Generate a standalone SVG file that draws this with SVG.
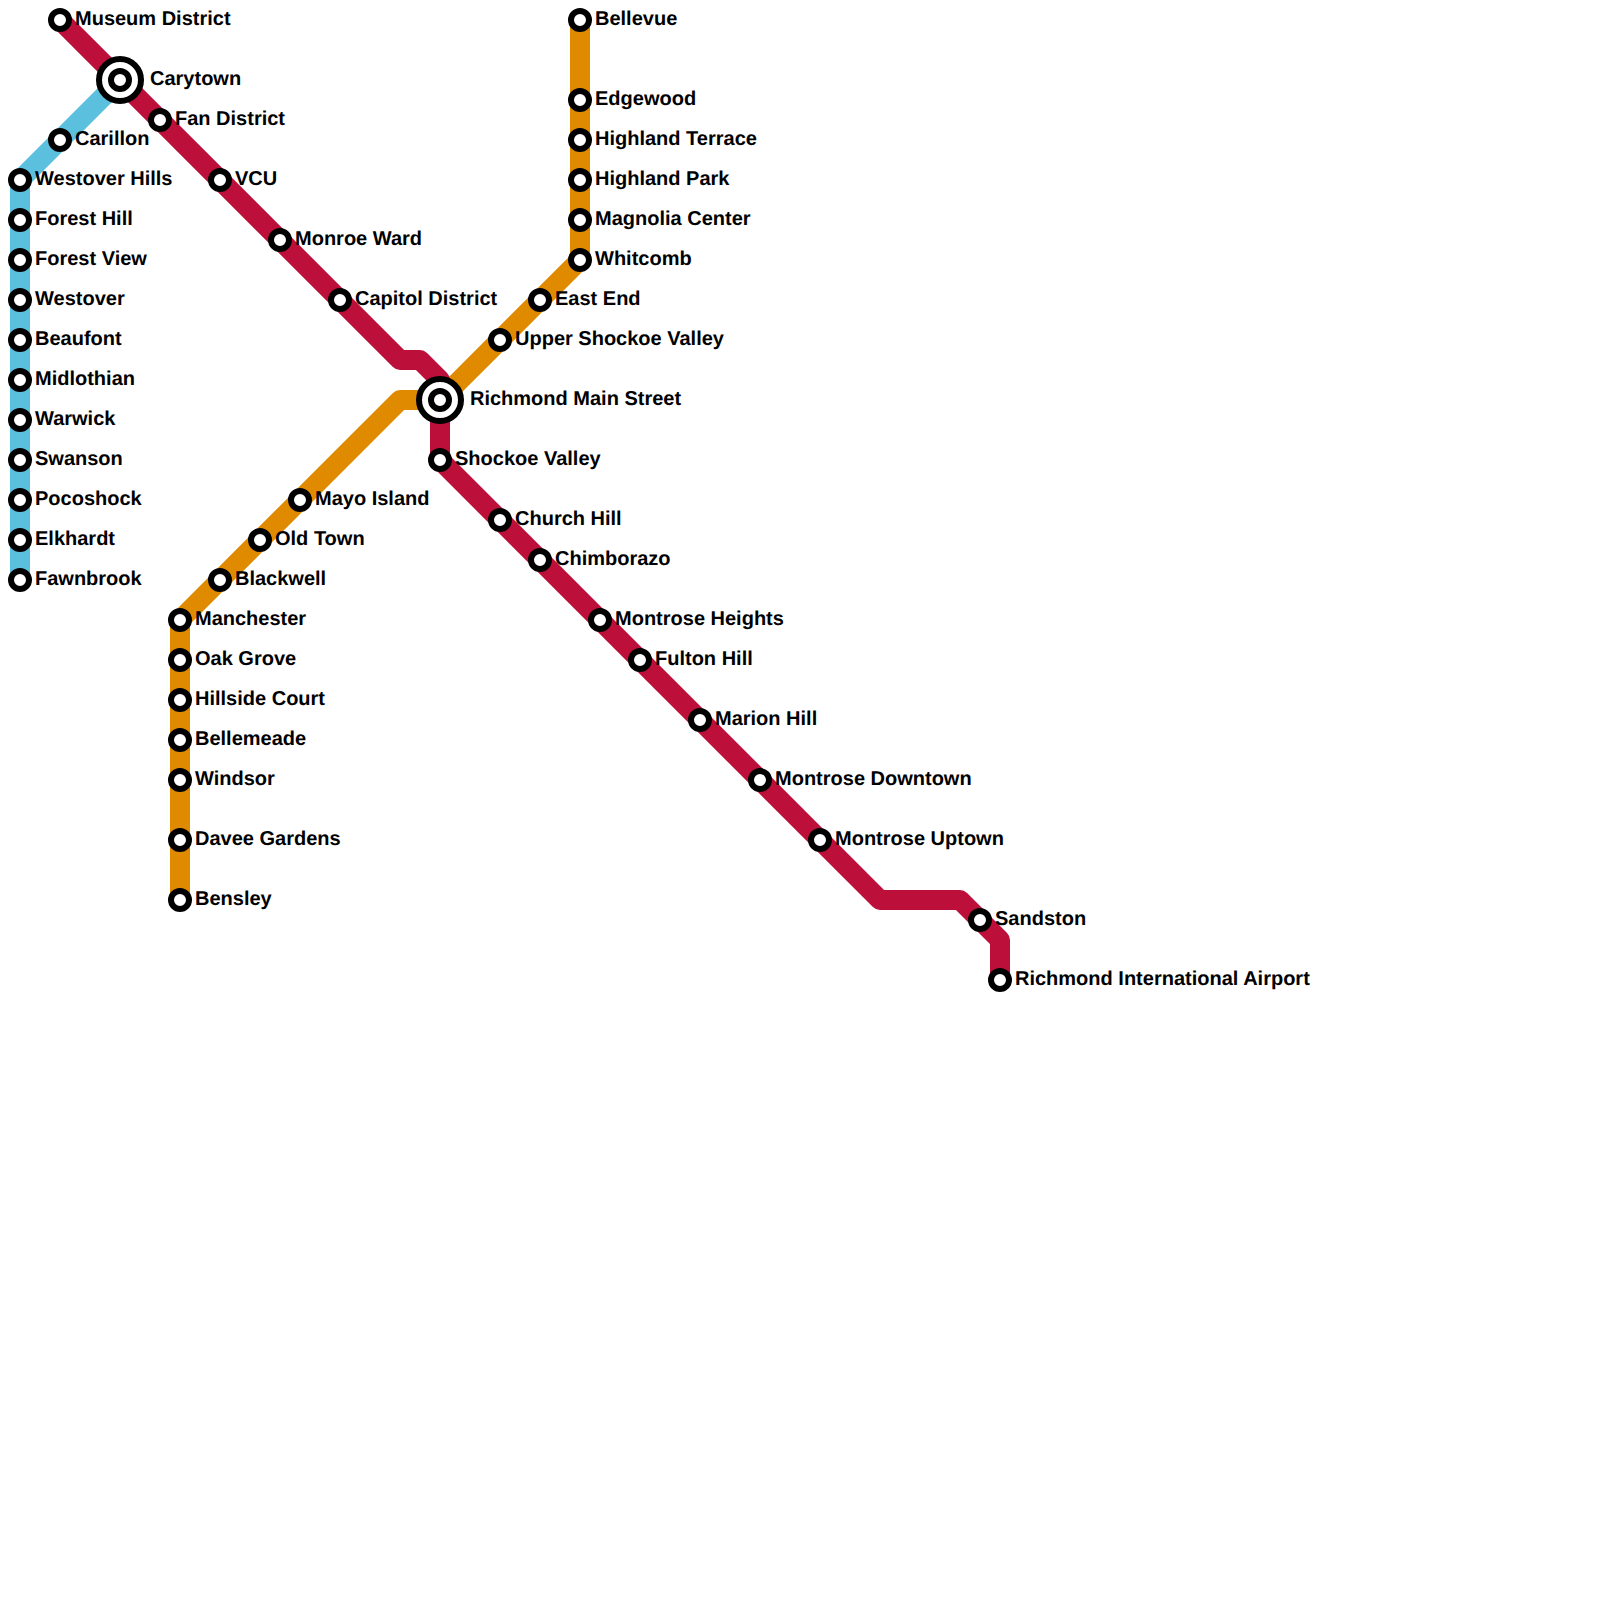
<svg xmlns="http://www.w3.org/2000/svg" width="1600" height="1600" viewBox="0 0 1600 1600">
<style>
.line{fill:none;stroke-width:20;stroke-linejoin:round;stroke-linecap:butt}
.blue{stroke:#5bc0de}.orange{stroke:#e08a00}.red{stroke:#bc0f3a}
.st{fill:#fff;stroke:#000;stroke-width:6}
.ring{fill:#fff;stroke:#000;stroke-width:6}
text{font-family:"Liberation Sans",Arial,sans-serif;font-weight:700;font-size:20px;fill:#000;text-rendering:geometricPrecision}
</style>
<rect width="1600" height="1600" fill="#fff"/>
<g id="connectors">
<polyline class="line blue" points="120,80 20,180 20,580"/>
<polyline class="line orange" points="580,20 580,260 440,400 400,400 180,620 180,900"/>
<polyline class="line red" points="60,20 400,360 420,360 440,380 440,460 880,900 960,900 1000,940 1000,980"/>
</g>
<g id="n-museum-district"><circle class="st" cx="60" cy="20" r="9"/><text x="75" y="25">Museum District</text></g>
<g id="n-carytown"><circle class="ring" cx="120" cy="80" r="21"/><circle class="ring" cx="120" cy="80" r="9"/><text x="150" y="85">Carytown</text></g>
<g id="n-fan-district"><circle class="st" cx="160" cy="120" r="9"/><text x="175" y="125">Fan District</text></g>
<g id="n-vcu"><circle class="st" cx="220" cy="180" r="9"/><text x="235" y="185">VCU</text></g>
<g id="n-monroe-ward"><circle class="st" cx="280" cy="240" r="9"/><text x="295" y="245">Monroe Ward</text></g>
<g id="n-capitol-district"><circle class="st" cx="340" cy="300" r="9"/><text x="355" y="305">Capitol District</text></g>
<g id="n-richmond-main"><circle class="ring" cx="440" cy="400" r="21"/><circle class="ring" cx="440" cy="400" r="9"/><text x="470" y="405">Richmond Main Street</text></g>
<g id="n-shockoe-valley"><circle class="st" cx="440" cy="460" r="9"/><text x="455" y="465">Shockoe Valley</text></g>
<g id="n-church-hill"><circle class="st" cx="500" cy="520" r="9"/><text x="515" y="525">Church Hill</text></g>
<g id="n-chimborazo"><circle class="st" cx="540" cy="560" r="9"/><text x="555" y="565">Chimborazo</text></g>
<g id="n-montrose-heights"><circle class="st" cx="600" cy="620" r="9"/><text x="615" y="625">Montrose Heights</text></g>
<g id="n-fulton-hill"><circle class="st" cx="640" cy="660" r="9"/><text x="655" y="665">Fulton Hill</text></g>
<g id="n-marion-hill"><circle class="st" cx="700" cy="720" r="9"/><text x="715" y="725">Marion Hill</text></g>
<g id="n-montrose-downtown"><circle class="st" cx="760" cy="780" r="9"/><text x="775" y="785">Montrose Downtown</text></g>
<g id="n-montrose-uptown"><circle class="st" cx="820" cy="840" r="9"/><text x="835" y="845">Montrose Uptown</text></g>
<g id="n-sandston"><circle class="st" cx="980" cy="920" r="9"/><text x="995" y="925">Sandston</text></g>
<g id="n-airport"><circle class="st" cx="1000" cy="980" r="9"/><text x="1015" y="985">Richmond International Airport</text></g>
<g id="n-carillon"><circle class="st" cx="60" cy="140" r="9"/><text x="75" y="145">Carillon</text></g>
<g id="n-westover-hills"><circle class="st" cx="20" cy="180" r="9"/><text x="35" y="185">Westover Hills</text></g>
<g id="n-forest-hill"><circle class="st" cx="20" cy="220" r="9"/><text x="35" y="225">Forest Hill</text></g>
<g id="n-forest-view"><circle class="st" cx="20" cy="260" r="9"/><text x="35" y="265">Forest View</text></g>
<g id="n-westover"><circle class="st" cx="20" cy="300" r="9"/><text x="35" y="305">Westover</text></g>
<g id="n-beaufont"><circle class="st" cx="20" cy="340" r="9"/><text x="35" y="345">Beaufont</text></g>
<g id="n-midlothian"><circle class="st" cx="20" cy="380" r="9"/><text x="35" y="385">Midlothian</text></g>
<g id="n-warwick"><circle class="st" cx="20" cy="420" r="9"/><text x="35" y="425">Warwick</text></g>
<g id="n-swanson"><circle class="st" cx="20" cy="460" r="9"/><text x="35" y="465">Swanson</text></g>
<g id="n-pocoshock"><circle class="st" cx="20" cy="500" r="9"/><text x="35" y="505">Pocoshock</text></g>
<g id="n-elkhardt"><circle class="st" cx="20" cy="540" r="9"/><text x="35" y="545">Elkhardt</text></g>
<g id="n-fawnbrook"><circle class="st" cx="20" cy="580" r="9"/><text x="35" y="585">Fawnbrook</text></g>
<g id="n-bellevue"><circle class="st" cx="580" cy="20" r="9"/><text x="595" y="25">Bellevue</text></g>
<g id="n-edgewood"><circle class="st" cx="580" cy="100" r="9"/><text x="595" y="105">Edgewood</text></g>
<g id="n-highland-terrace"><circle class="st" cx="580" cy="140" r="9"/><text x="595" y="145">Highland Terrace</text></g>
<g id="n-highland-park"><circle class="st" cx="580" cy="180" r="9"/><text x="595" y="185">Highland Park</text></g>
<g id="n-magnolia-center"><circle class="st" cx="580" cy="220" r="9"/><text x="595" y="225">Magnolia Center</text></g>
<g id="n-whitcomb"><circle class="st" cx="580" cy="260" r="9"/><text x="595" y="265">Whitcomb</text></g>
<g id="n-east-end"><circle class="st" cx="540" cy="300" r="9"/><text x="555" y="305">East End</text></g>
<g id="n-upper-shockoe-valley"><circle class="st" cx="500" cy="340" r="9"/><text x="515" y="345">Upper Shockoe Valley</text></g>
<g id="n-mayo-island"><circle class="st" cx="300" cy="500" r="9"/><text x="315" y="505">Mayo Island</text></g>
<g id="n-old-town"><circle class="st" cx="260" cy="540" r="9"/><text x="275" y="545">Old Town</text></g>
<g id="n-blackwell"><circle class="st" cx="220" cy="580" r="9"/><text x="235" y="585">Blackwell</text></g>
<g id="n-manchester"><circle class="st" cx="180" cy="620" r="9"/><text x="195" y="625">Manchester</text></g>
<g id="n-oak-grove"><circle class="st" cx="180" cy="660" r="9"/><text x="195" y="665">Oak Grove</text></g>
<g id="n-hillside-court"><circle class="st" cx="180" cy="700" r="9"/><text x="195" y="705">Hillside Court</text></g>
<g id="n-bellemeade"><circle class="st" cx="180" cy="740" r="9"/><text x="195" y="745">Bellemeade</text></g>
<g id="n-windsor"><circle class="st" cx="180" cy="780" r="9"/><text x="195" y="785">Windsor</text></g>
<g id="n-davee-gardens"><circle class="st" cx="180" cy="840" r="9"/><text x="195" y="845">Davee Gardens</text></g>
<g id="n-bensley"><circle class="st" cx="180" cy="900" r="9"/><text x="195" y="905">Bensley</text></g>
</svg>
